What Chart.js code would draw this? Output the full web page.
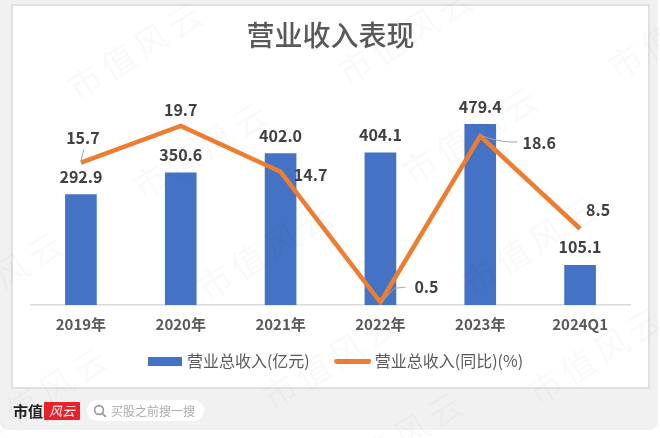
<!DOCTYPE html>
<html lang="zh">
<head>
<meta charset="utf-8">
<title>营业收入表现</title>
<script src="https://cdn.jsdelivr.net/npm/chart.js@4/dist/chart.umd.min.js"></script>
<style>
  html, body { margin: 0; padding: 0; background: #fff; }
  body { width: 660px; height: 438px; position: relative; overflow: hidden; font-family: "Noto Sans CJK SC", sans-serif; }
  #page { position: absolute; left: 0; top: 0; width: 658px; height: 430px; background: #f1f1f1; border-radius: 0 0 9px 9px; }
  #card { position: absolute; left: 11px; top: 4px; width: 635px; height: 381px; background: #fff; border: 2px solid #e0e0e0; }
  #chart { position: absolute; left: 0; top: 0; }
  #logo { position: absolute; left: 13px; top: 400px; font: 700 15px "Noto Sans CJK SC"; color: #222; line-height: 22px; }
  #logoBox { position: absolute; left: 44px; top: 402px; width: 36px; height: 18px; background: #e8212b; border-radius: 1px; color: #fff; font: italic 13px/18px "Noto Sans CJK SC"; text-align: center; }
  #search { position: absolute; left: 87px; top: 400px; width: 117px; height: 21px; border-radius: 11px; background: #fff; color: #aaa; font: 12px/21px "Noto Sans CJK SC"; text-indent: 24px; }
  #search svg { position: absolute; left: 6px; top: 4px; }
  #marks { position: absolute; left: 0; top: 0; width: 660px; height: 438px; overflow: hidden; pointer-events: none; }
  #marks span { position: absolute; font-size: 34px; line-height: 34px; letter-spacing: 5px; white-space: nowrap; color: rgba(0,0,0,0.024); transform-origin: 0 50%; transform: rotate(-32deg); }
</style>
</head>
<body>
<div id="page"></div>
<div id="card"></div>
<canvas id="chart" width="660" height="438"></canvas>
<div id="logo">市值</div>
<div id="logoBox">风云</div>
<div id="search">
  <svg width="14" height="14" viewBox="0 0 14 14"><circle cx="6" cy="6" r="4.4" fill="none" stroke="#999" stroke-width="1.6"/><line x1="9.3" y1="9.3" x2="12.8" y2="12.8" stroke="#999" stroke-width="1.8"/></svg>
  买股之前搜一搜
</div>
<div id="marks"></div>

<script>
  const categories = ["2019年", "2020年", "2021年", "2022年", "2023年", "2024Q1"];
  const revenue = [292.9, 350.6, 402.0, 404.1, 479.4, 105.1];
  const growth = [15.7, 19.7, 14.7, 0.5, 18.6, 8.5];
  const revenueName = "营业总收入(亿元)";
  const growthName = "营业总收入(同比)(%)";

  // 折线标签的手动偏移,和原图的位置对齐
  const growthLabelOffsets = [[2, -25], [0, -16], [30, 3], [46, -15], [59, 7], [18, -19]];
  const barLabelOffset = -18;
  const axisSqueeze = 20;

  const watermarkSpots = [
    [70, 90], [135, 190], [340, 75], [405, 175], [610, 70], [-70, 320],
    [200, 290], [-25, 435], [265, 400], [465, 285], [530, 395], [330, 480]
  ];

  const marks = document.getElementById("marks");
  watermarkSpots.forEach(function (spot) {
    const el = document.createElement("span");
    el.textContent = "市值风云";
    el.style.left = spot[0] + "px";
    el.style.top = spot[1] - 17 + "px";
    marks.appendChild(el);
  });

  // 图例色块
  function legendSwatch(w, h, color) {
    const c = document.createElement("canvas");
    c.width = w;
    c.height = h;
    const g = c.getContext("2d");
    g.fillStyle = color;
    g.beginPath();
    g.roundRect(0, 0, w, h, h === 9 ? 0 : h / 2);
    g.fill();
    return c;
  }

  const labelPlugin = {
    id: "valueLabels",
    afterLayout(chart) {
      // 原图图例略偏右
      chart.legend.left += 6.5;
      chart.legend.right += 6.5;
      // 坐标轴压缩后把裁剪区还回去,不然刻度文字被切掉
      chart.scales.x.bottom += axisSqueeze;
    },
    afterDatasetsDraw(chart) {
      const ctx = chart.ctx;
      const x = chart.scales.x;
      const yBar = chart.scales.y;
      const yLine = chart.scales.y1;
      ctx.save();

      // 引导线
      ctx.strokeStyle = "#a6a6a6";
      ctx.lineWidth = 1;
      let px = x.getPixelForValue(0);
      let py = yLine.getPixelForValue(growth[0]);
      ctx.beginPath();
      ctx.moveTo(px, py - 2);
      ctx.lineTo(px + 3, py - 13);
      ctx.stroke();

      px = x.getPixelForValue(3);
      py = yLine.getPixelForValue(growth[3]);
      ctx.beginPath();
      ctx.moveTo(px + 1, py);
      ctx.lineTo(px + 14, py - 14);
      ctx.lineTo(px + 25, py - 15);
      ctx.stroke();

      px = x.getPixelForValue(4);
      py = yLine.getPixelForValue(growth[4]);
      ctx.beginPath();
      ctx.moveTo(px + 2, py);
      ctx.quadraticCurveTo(px + 22, py + 7, px + 37, py + 6);
      ctx.stroke();

      ctx.font = "700 16px 'Noto Sans CJK SC'";
      ctx.fillStyle = "#404040";
      ctx.textAlign = "center";
      ctx.textBaseline = "middle";
      revenue.forEach(function (v, i) {
        ctx.fillText(v.toFixed(1), x.getPixelForValue(i), yBar.getPixelForValue(v) + barLabelOffset);
      });
      growth.forEach(function (v, i) {
        const off = growthLabelOffsets[i];
        ctx.fillText(v.toFixed(1), x.getPixelForValue(i) + off[0], yLine.getPixelForValue(v) + off[1]);
      });
      ctx.restore();
    },
  };

  new Chart(document.getElementById("chart").getContext("2d"), {
    data: {
      labels: categories,
      datasets: [
        {
          type: "line",
          label: growthName,
          data: growth,
          yAxisID: "y1",
          borderColor: "#ed7d31",
          borderWidth: 4.5,
          pointRadius: 0,
          tension: 0,
          order: 1,
        },
        {
          type: "bar",
          label: revenueName,
          data: revenue,
          yAxisID: "y",
          backgroundColor: "#4472c4",
          barThickness: 31,
          order: 2,
        },
      ],
    },
    options: {
      responsive: false,
      animation: false,
      layout: { padding: { left: 31, right: 30, top: 19, bottom: 59 } },
      scales: {
        x: {
          grid: { display: false, drawTicks: false },
          border: { color: "#d9d9d9", width: 1.5 },
          ticks: {
            color: "#595959",
            padding: 10.5,
            font: { family: "'Noto Sans CJK SC'", size: 15, weight: "700" },
          },
          afterFit(scale) {
            // 图例和坐标轴之间留得比默认紧
            scale.height -= axisSqueeze;
          },
        },
        y: { display: false, min: 0, max: 617 },
        y1: { display: false, min: 0.2, max: 25.5 },
      },
      plugins: {
        title: {
          display: true,
          text: "营业收入表现",
          color: "#595959",
          font: { family: "'Noto Sans CJK SC'", size: 28, weight: "500" },
          padding: { top: 0, bottom: 20 },
        },
        tooltip: { enabled: false },
        legend: {
          display: true,
          position: "bottom",
          labels: {
            color: "#595959",
            font: { family: "'Noto Sans CJK SC'", size: 16 },
            usePointStyle: true,
            pointStyleWidth: 28,
            boxHeight: 9,
            padding: 29,
            generateLabels() {
              return [
                { text: revenueName, pointStyle: legendSwatch(34, 9, "#4472c4"), fontColor: "#595959", lineWidth: 0, datasetIndex: 1 },
                { text: growthName, pointStyle: legendSwatch(37, 5, "#ed7d31"), fontColor: "#595959", lineWidth: 0, datasetIndex: 0 },
              ];
            },
          },
        },
      },
    },
    plugins: [labelPlugin],
  });
</script>
</body>
</html>
